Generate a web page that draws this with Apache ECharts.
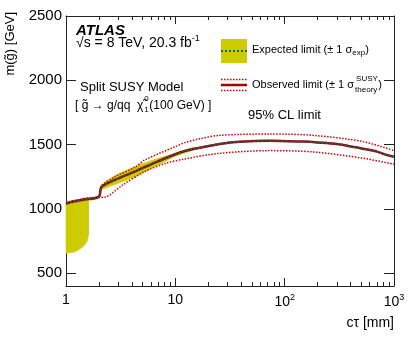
<!DOCTYPE html>
<html>
<head>
<meta charset="utf-8">
<script src="https://cdn.jsdelivr.net/npm/echarts@6/dist/echarts.min.js"></script>
<style>
  html, body { margin: 0; padding: 0; background: #fff; }
  #main { width: 415px; height: 341px; }
</style>
</head>
<body>
<div id="main"></div>
<script>
// axis ticks
const xMinorTicks = [2, 3, 4, 5, 6, 7, 8, 9, 20, 30, 40, 50, 60, 70, 80, 90, 200, 300, 400, 500, 600, 700, 800, 900];
const yTicks = [500, 1000, 1500, 2000, 2500];

// observed limit, c tau [mm] vs gluino mass [GeV]
const obsCt   = [1, 1.2, 1.5, 2.0, 2.11, 2.8, 4.25, 6.5, 10, 12.2, 16.7, 25.5, 38.7, 73, 147, 200, 300, 519, 700, 850, 1000];
const obsMass = [1042, 1060, 1075, 1095, 1170, 1225, 1290, 1360, 1425, 1450, 1475, 1505, 1522, 1530, 1523, 1517, 1505, 1468, 1445, 1420, 1405];

// expected limit (sits right on top of the observed one)
const expCt   = [1, 1.2, 1.5, 2.0, 2.11, 2.8, 4.25, 6.5, 10, 12.2, 16.7, 25.5, 38.7, 73, 147, 200, 300, 519, 700, 850, 1000];
const expMass = [1045, 1062, 1076, 1095, 1168, 1225, 1290, 1358, 1423, 1450, 1475, 1505, 1522, 1530, 1523, 1517, 1505, 1468, 1445, 1420, 1405];

// observed +/- 1 sigma theory
const upCt   = [1, 1.5, 2.0, 2.11, 2.8, 4.25, 5.25, 10, 12.2, 16.7, 25.5, 73, 181, 519, 1000];
const upMass = [1050, 1082, 1100, 1180, 1250, 1322, 1380, 1484, 1515, 1545, 1572, 1582, 1572, 1523, 1453];
const downCt   = [1, 1.5, 2.0, 2.3, 3.3, 5.25, 8.2, 12.2, 25.5, 73, 181, 519, 1000];
const downMass = [1038, 1068, 1088, 1092, 1186, 1290, 1355, 1388, 1432, 1453, 1443, 1394, 1347];

// expected +/- 1 sigma band
const bandCt   = [1, 1.2, 1.33, 1.45, 1.55, 1.6, 1.61, 2.0, 2.11, 2.8, 4.25, 6.5, 10, 15];
const bandLow  = [655, 665, 685, 710, 745, 790, 1062, 1085, 1150, 1190, 1245, 1330, 1410, 1460];
const bandHigh = [1050, 1062, 1068, 1073, 1076, 1078, 1078, 1100, 1185, 1260, 1330, 1385, 1432, 1480];

const FONT = 'Liberation Sans, Arial, Helvetica, sans-serif';
const pairs = (xs, ys) => xs.map((x, i) => [x, ys[i]]);

const mctx = document.createElement('canvas').getContext('2d');
function textW(str, size, weight) {
  mctx.font = (weight || 'normal') + ' ' + size + 'px ' + FONT;
  return mctx.measureText(str).width;
}

const chart = echarts.init(document.getElementById('main'));

const TICK = '#222';
const noSplit = () => ({ lineStyle: { color: 'rgba(0,0,0,0)' } });

// log axes carry the data and the decade ticks
function logAxis(position, labels) {
  return {
    type: 'log', min: 1, max: 1000, gridIndex: 0, position,
    axisLine: { show: true, lineStyle: { color: '#222' } },
    axisTick: { show: true, inside: true, length: 8, lineStyle: { color: TICK } },
    axisLabel: labels,
    splitLine: noSplit()
  };
}
// minor ticks drawn on a linear axis in log10 space
function minorAxis(position) {
  return {
    type: 'value', min: 0, max: 3, gridIndex: 1, position,
    axisLine: { show: false },
    axisTick: { show: true, inside: true, length: 4, customValues: xMinorTicks.map(v => Math.log10(v)), lineStyle: { color: TICK } },
    axisLabel: { show: false },
    splitLine: noSplit()
  };
}
function yAxisCfg(position, labels) {
  return {
    type: 'value', min: 400, max: 2500, gridIndex: 0, position,
    axisLine: { show: true, lineStyle: { color: '#222' } },
    axisTick: { show: true, inside: true, length: 10, customValues: yTicks, lineStyle: { color: TICK } },
    axisLabel: labels,
    splitLine: noSplit()
  };
}

const xLabel = () => ({
  margin: 7, color: '#000', fontSize: 14, fontFamily: FONT,
  formatter: v => {
    const e = Math.round(Math.log10(v));
    if (e === 0) return '1';
    if (e === 1) return '10';
    return '10{s|' + e + '}';
  },
  rich: { s: { fontSize: 9, fontFamily: FONT, color: '#000', padding: [0, 0, 9, 0] } }
});
const yLabel = () => ({ customValues: yTicks, margin: 4, color: '#000', fontSize: 15, fontFamily: FONT,
  formatter: v => String(v) });

const gridRect = () => ({ left: 66, right: 21, top: 16, bottom: 55 });

// text pieces
const expX = 252, expY = 50, obsY = 85;
const expMain = 'Expected limit (\u00b1 1 \u03c3';
const obsMain = 'Observed limit (\u00b1 1 \u03c3';
const obsW = textW(obsMain, 11);
const subW = textW('theory', 8);

const decayMain = '[ g\u0303 \u2192 g/qq  \u03c7\u0303';
const decayW = textW(decayMain, 12);

const graphics = [
  { type: 'text', x: 76, y: 31, style: { text: 'ATLAS', font: 'italic bold 15px ' + FONT, fill: '#000', verticalAlign: 'middle' } },
  { type: 'text', x: 76, y: 43, style: { text: '\u221as = 8 TeV, 20.3 fb{s|-1}', fontSize: 14, fontFamily: FONT, fill: '#000', verticalAlign: 'middle',
      rich: { s: { fontSize: 9, fontFamily: FONT, padding: [0, 0, 9, 0] } } } },
  { type: 'text', x: 80, y: 87, style: { text: 'Split SUSY Model', fontSize: 13, fontFamily: FONT, fill: '#000', verticalAlign: 'middle' } },
  { type: 'text', x: 75, y: 106, style: { text: decayMain, fontSize: 12, fontFamily: FONT, fill: '#000', verticalAlign: 'middle' } },
  { type: 'text', x: 75 + decayW + 1, y: 99, style: { text: '0', fontSize: 8, fontFamily: FONT, fill: '#000', verticalAlign: 'middle' } },
  { type: 'text', x: 75 + decayW + 1, y: 110, style: { text: '1', fontSize: 8, fontFamily: FONT, fill: '#000', verticalAlign: 'middle' } },
  { type: 'text', x: 75 + decayW + 6, y: 106, style: { text: '(100 GeV) ]', fontSize: 12, fontFamily: FONT, fill: '#000', verticalAlign: 'middle' } },
  // legend: expected
  { type: 'rect', shape: { x: 221, y: 39, width: 26, height: 24 }, style: { fill: '#cccc00' } },
  { type: 'line', shape: { x1: 221, y1: 51, x2: 247, y2: 51 }, style: { stroke: '#0d6b5c', lineWidth: 2, lineDash: [2, 2] } },
  { type: 'text', x: expX, y: expY, style: { text: expMain + '{s|exp})', fontSize: 11, fontFamily: FONT, fill: '#000', verticalAlign: 'middle',
      rich: { s: { fontSize: 8, fontFamily: FONT, padding: [6, 0, 0, 0] } } } },
  // legend: observed
  { type: 'line', shape: { x1: 221, y1: 79.5, x2: 247, y2: 79.5 }, style: { stroke: '#cc0000', lineWidth: 1.5, lineDash: [1.5, 1.5] } },
  { type: 'line', shape: { x1: 221, y1: 85, x2: 247, y2: 85 }, style: { stroke: '#aa0000', lineWidth: 2.5 } },
  { type: 'line', shape: { x1: 221, y1: 90.5, x2: 247, y2: 90.5 }, style: { stroke: '#cc0000', lineWidth: 1.5, lineDash: [1.5, 1.5] } },
  { type: 'text', x: expX, y: obsY, style: { text: obsMain, fontSize: 11, fontFamily: FONT, fill: '#000', verticalAlign: 'middle' } },
  { type: 'text', x: expX + obsW + 2, y: obsY - 6, style: { text: 'SUSY', fontSize: 8, fontFamily: FONT, fill: '#000', verticalAlign: 'middle' } },
  { type: 'text', x: expX + obsW + 1, y: obsY + 5, style: { text: 'theory', fontSize: 8, fontFamily: FONT, fill: '#000', verticalAlign: 'middle' } },
  { type: 'text', x: expX + obsW + subW + 2, y: obsY, style: { text: ')', fontSize: 11, fontFamily: FONT, fill: '#000', verticalAlign: 'middle' } },
  { type: 'text', x: 248, y: 115, style: { text: '95% CL limit', fontSize: 13, fontFamily: FONT, fill: '#000', verticalAlign: 'middle' } },
  // axis titles
  { type: 'text', x: 394, y: 323, style: { text: 'c\u03c4 [mm]', fontSize: 14, fontFamily: FONT, fill: '#000', align: 'right', verticalAlign: 'middle' } },
  { type: 'text', x: 10, y: 12, rotation: Math.PI / 2, style: { text: 'm(g\u0303) [GeV]', fontSize: 13, fontFamily: FONT, fill: '#000', align: 'right', verticalAlign: 'middle' } }
];

const lineBase = () => ({ type: 'line', symbol: 'none', xAxisIndex: 0, yAxisIndex: 0, silent: true });

const option = {
  animation: false,
  grid: [gridRect(), gridRect()],
  xAxis: [
    logAxis('bottom', xLabel()),
    logAxis('top', { show: false }),
    minorAxis('bottom'),
    minorAxis('top')
  ],
  yAxis: [
    yAxisCfg('left', yLabel()),
    yAxisCfg('right', { show: false }),
    { type: 'value', min: 400, max: 2500, gridIndex: 1, show: false }
  ],
  series: [
    {
      // expected +/- 1 sigma band, one quad per step between neighbouring points
      type: 'custom', name: 'band', xAxisIndex: 0, yAxisIndex: 0, silent: true,
      data: bandCt.map((c, i) => [c, bandLow[i], bandHigh[i]]),
      renderItem: (params, api) => {
        const i = params.dataIndex;
        if (i >= bandCt.length - 1) return null;
        const pts = [
          api.coord([bandCt[i], bandHigh[i]]),
          api.coord([bandCt[i + 1], bandHigh[i + 1]]),
          api.coord([bandCt[i + 1], bandLow[i + 1]]),
          api.coord([bandCt[i], bandLow[i]])
        ];
        return { type: 'polygon', shape: { points: pts }, style: { fill: '#cccc00', stroke: '#cccc00', lineWidth: 0.6 } };
      }
    },
    Object.assign(lineBase(), { name: 'obsUp', data: pairs(upCt, upMass), smooth: 0.3,
      lineStyle: { color: '#cc0000', width: 1.5, type: [1.5, 1.5] } }),
    Object.assign(lineBase(), { name: 'obsDown', data: pairs(downCt, downMass), smooth: 0.3,
      lineStyle: { color: '#cc0000', width: 1.5, type: [1.5, 1.5] } }),
    Object.assign(lineBase(), { name: 'observed', data: pairs(obsCt, obsMass), smooth: 0.3,
      lineStyle: { color: '#aa0000', width: 2.5 } }),
    Object.assign(lineBase(), { name: 'expected', data: pairs(expCt, expMass), smooth: 0.3,
      lineStyle: { color: '#0d6b5c', width: 2, type: [2, 2] } })
  ],
  graphic: graphics
};

chart.setOption(option);
</script>
</body>
</html>
